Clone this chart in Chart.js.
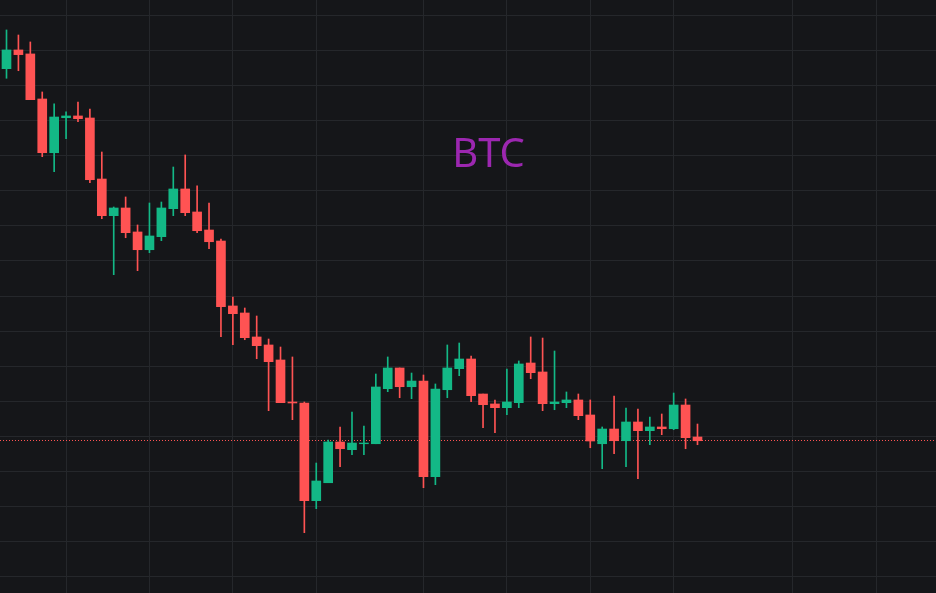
<!DOCTYPE html>
<html><head><meta charset="utf-8">
<script src="https://cdn.jsdelivr.net/npm/chart.js@4.4.0/dist/chart.umd.min.js"></script>
<style>html,body{margin:0;padding:0;background:#151619;overflow:hidden}#wrap{width:936px;height:593px}</style>
</head><body><div id="wrap"><canvas id="c" width="936" height="593"></canvas></div>
<script>
const symbol = 'BTC';
const open  = [25241,25508,25451,24809,24043,24542,24567,24538,23668,23145,23255,22913,22660,22846,23245,23526,23198,22941,22784,21858,21758,21416,21302,21088,20489,20475,19082,19338,19919,19809,19894,19894,20679,20974,20707,20788,19424,20664,20964,21102,20603,20461,20408,20479,21045,20917,20465,20479,20518,20304,19894,20104,19937,20204,20080,20133,20108,20446,19990];
const high  = [25793,25721,25622,24909,24738,24624,24766,24666,24053,23269,23412,23013,23326,23340,23839,24011,23569,23326,22813,21986,21829,21715,21387,21273,21131,20489,19619,19947,20133,20346,20147,20888,21131,20974,20902,20874,20746,21302,21330,21145,20603,20518,20960,21074,21416,21401,21216,20632,20603,20518,20133,20575,20403,20389,20275,20318,20617,20532,20175];
const low   = [25104,25212,24799,23986,23772,24243,24485,23616,23102,22304,22831,22361,22618,22789,23145,23145,22903,22675,21420,21306,21377,21106,20365,20479,20237,18626,18968,19338,19567,19738,19738,19894,20636,20550,20536,19267,19310,20550,20864,20493,20123,20051,20308,20408,20821,20365,20379,20408,20237,19837,19538,19752,19567,19396,19880,20023,20094,19823,19880];
const close = [25508,25441,24799,24043,24552,24567,24528,23658,23145,23255,22903,22660,22856,23255,23526,23188,22931,22774,21848,21748,21406,21292,21064,20479,20475,19082,19363,19919,19823,19904,19904,20703,20974,20707,20788,19424,20674,20974,21102,20579,20451,20408,20489,21031,20907,20465,20489,20518,20294,19933,20104,19937,20204,20080,20133,20108,20446,19980,19937];
const timeGridIndex = [5,12,19,26,35,42,49,56,66,73];
const priceGridLevels = [18000,18500,19000,19500,20000,20500,21000,21500,22000,22500,23000,23500,24000,24500,25000,25500,26000];
const priceMin = 17766, priceMax = 26220;
const indexMin = -0.5456, indexMax = 78.02;

const UP = '#13b886', DOWN = '#ff5353', BG = '#151619', GRID = '#25272b';

const isUp = close.map((c, i) => c >= open[i]);
const wickData = open.map((o, i) => ({x: i, y: [low[i], high[i]]}));
const bodyData = open.map((o, i) => ({x: i, y: [o, close[i]]}));
const colors = isUp.map(u => u ? UP : DOWN);

const bgPlugin = {
  id: 'bg',
  beforeDraw(chart) {
    const ctx = chart.ctx;
    ctx.save(); ctx.fillStyle = BG; ctx.fillRect(0, 0, chart.width, chart.height); ctx.restore();
  }
};
const overlayPlugin = {
  id: 'overlay',
  beforeDatasetsDraw(chart) {
    const ctx = chart.ctx, y = chart.scales.y, a = chart.chartArea;
    const py = Math.floor(y.getPixelForValue(close[close.length - 1])) + 0.5;
    ctx.save();
    ctx.strokeStyle = '#ff5353'; ctx.lineWidth = 1; ctx.setLineDash([1, 2]);
    ctx.beginPath(); ctx.moveTo(a.left, py); ctx.lineTo(a.right, py); ctx.stroke();
    ctx.setLineDash([]);
    ctx.fillStyle = '#9c27b0';
    ctx.font = '40px "Noto Sans"';
    ctx.textAlign = 'center'; ctx.textBaseline = 'alphabetic';
    ctx.fillText(symbol, 488.5, 166.5);
    ctx.restore();
  }
};

new Chart(document.getElementById('c'), {
  type: 'bar',
  data: {
    datasets: [
      {data: wickData, backgroundColor: colors, barThickness: 1, borderWidth: 0, grouped: false, order: 2},
      {data: bodyData, backgroundColor: colors, barThickness: 9, borderWidth: 0, grouped: false, order: 1}
    ]
  },
  options: {
    responsive: false, animation: false, devicePixelRatio: 1,
    layout: {padding: 0},
    plugins: {legend: {display: false}, tooltip: {enabled: false}},
    scales: {
      x: {
        type: 'linear', min: indexMin, max: indexMax, offset: false,
        grid: {color: GRID, lineWidth: 1, drawTicks: false, offset: false},
        border: {display: false},
        ticks: {display: false},
        afterBuildTicks: s => { s.ticks = timeGridIndex.map(v => ({value: v})); }
      },
      y: {
        type: 'linear', min: priceMin, max: priceMax,
        grid: {color: GRID, lineWidth: 1, drawTicks: false},
        border: {display: false},
        ticks: {display: false},
        afterBuildTicks: s => { s.ticks = priceGridLevels.map(v => ({value: v})); }
      }
    }
  },
  plugins: [bgPlugin, overlayPlugin]
});
</script>
</body></html>
